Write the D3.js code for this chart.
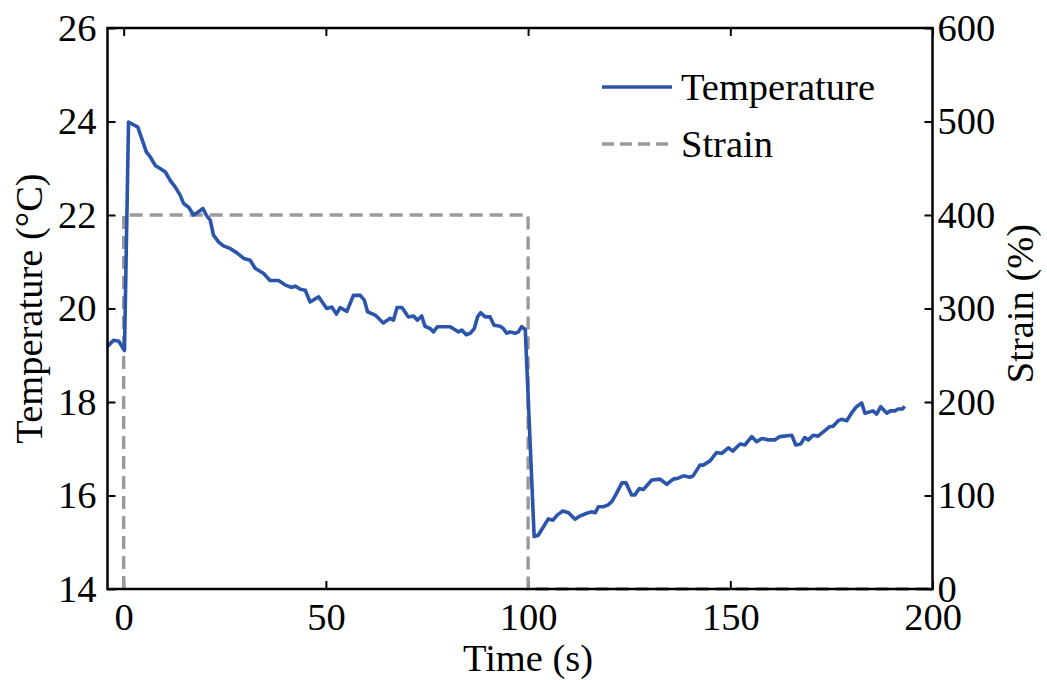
<!DOCTYPE html>
<html><head><meta charset="utf-8">
<script src="https://cdn.jsdelivr.net/npm/d3@7"></script>
<style>body{margin:0;background:#fff;} text{font-family:"Liberation Serif","Times New Roman",serif;}</style>
</head><body><svg id="c" width="1047" height="680"></svg>
<script>
const tempTime = [-4,-2.5,-1.2,0.2,1.2,3.5,4.5,5.6,6.6,7.8,9.1,10.3,11.5,12.8,14.0,14.8,16.1,17.3,18.5,19.6,20.4,21.4,22.2,23.5,24.7,26.4,28.0,29.7,31.3,32.5,34.6,36.2,38.3,40,41.6,42.4,43.7,44.9,46.1,48.2,50.2,51.5,52.6,53.5,55.2,56.8,58.5,59.5,60.3,62.2,64.2,65.9,66.7,67.6,68.8,70.4,71.7,72.6,73.7,74.5,75.8,76.6,77.6,80.7,82.8,83.6,84.7,85.7,86.7,87.5,88.3,89.4,90.6,91.6,93.1,93.9,94.7,95.5,96.8,97.6,98.4,99.3,101.5,102.5,103.8,105,106.1,107.2,108.6,110,111.6,112.8,114.5,115.7,116.6,117.4,118.6,119.8,120.7,121.9,123.2,124.2,125.6,126.4,127.5,128.5,130.6,132.6,134.3,135.9,137.1,138.4,140,140.8,142.5,143.3,145,146.6,147.9,149.5,150.6,152.4,153.6,155.3,156.5,157.8,159.4,161,162.3,165.2,166.2,167.4,168.4,169.3,170.5,171.7,173,174.5,175.4,176.7,177.5,178.8,180.2,181.2,182.5,183.3,185.3,186.2,187.2,188.7,189.6,190.7,191.5,192.6,193.1];
const tempValue = [19.19,19.32,19.3,19.1,23.99,23.88,23.63,23.35,23.24,23.06,22.99,22.92,22.74,22.59,22.42,22.25,22.16,22.0,22.07,22.14,22.0,21.89,21.57,21.42,21.34,21.28,21.19,21.07,21.03,20.86,20.75,20.6,20.6,20.5,20.45,20.48,20.41,20.39,20.14,20.25,20.0,20.03,19.88,20.02,19.94,20.28,20.28,20.18,19.93,19.86,19.69,19.79,19.75,20.02,20.02,19.82,19.84,19.75,19.84,19.62,19.57,19.5,19.61,19.61,19.5,19.54,19.44,19.47,19.57,19.82,19.91,19.82,19.82,19.64,19.62,19.57,19.47,19.5,19.47,19.5,19.61,19.55,15.12,15.15,15.33,15.5,15.47,15.58,15.67,15.63,15.49,15.56,15.62,15.65,15.63,15.76,15.76,15.8,15.87,16.05,16.27,16.27,16.01,16.01,16.15,16.13,16.33,16.35,16.24,16.35,16.37,16.42,16.39,16.42,16.65,16.65,16.74,16.92,16.9,17.02,16.95,17.1,17.08,17.26,17.15,17.22,17.19,17.19,17.26,17.29,17.08,17.1,17.24,17.19,17.29,17.27,17.36,17.47,17.48,17.6,17.63,17.6,17.79,17.9,17.98,17.76,17.81,17.74,17.9,17.76,17.81,17.81,17.85,17.85,17.91];
const strainTime = [0,0,100,100,200];
const strainValue = [0,400,400,0,0];
const xTicks = [0,50,100,150,200];
const tempTicks = [14,16,18,20,22,24,26];
const strainTicks = [0,100,200,300,400,500,600];

const svg = d3.select("#c");
const L=107.5, R=932.5, T=28, B=589;
const x = d3.scaleLinear().domain([-4,200]).range([L,R]);
const yT = d3.scaleLinear().domain([14,26]).range([B,T]);
const yS = d3.scaleLinear().domain([0,600]).range([B,T]);
const fs = 38.5;
const g = svg.append("g");

function styleAxis(a){
  a.select(".domain").remove();
  a.selectAll(".tick line").attr("stroke","#000").attr("stroke-width",2);
  a.selectAll(".tick text").attr("font-size",fs).attr("fill","#000").attr("font-family","Liberation Serif");
}
const tk = 8;
g.append("g").attr("transform",`translate(0,${B})`).call(d3.axisBottom(x).tickValues(xTicks).tickSizeInner(-tk).tickSizeOuter(0).tickPadding(14)).call(styleAxis);
g.append("g").attr("transform",`translate(0,${T})`).call(d3.axisTop(x).tickValues(xTicks).tickSizeInner(-tk).tickSizeOuter(0).tickFormat("")).call(styleAxis);
g.append("g").attr("transform",`translate(${L},0)`).call(d3.axisLeft(yT).tickValues(tempTicks).tickSizeInner(-tk).tickSizeOuter(0).tickPadding(11)).call(styleAxis);
g.append("g").attr("transform",`translate(${R},0)`).call(d3.axisRight(yS).tickValues(strainTicks).tickSizeInner(-tk).tickSizeOuter(0).tickPadding(5)).call(styleAxis);

const strainData = strainTime.map((t,i)=>[t,strainValue[i]]);
g.append("path").datum(strainData)
  .attr("d", d3.line().x(d=>x(d[0])).y(d=>yS(d[1])))
  .attr("fill","none").attr("stroke","#9a9a9a").attr("stroke-width",3.4).attr("stroke-dasharray","13,7");
const tempData = tempTime.map((t,i)=>[t,tempValue[i]]);
g.append("path").datum(tempData)
  .attr("d", d3.line().x(d=>x(d[0])).y(d=>yT(d[1])))
  .attr("fill","none").attr("stroke","#2a55aa").attr("stroke-width",3.6).attr("stroke-linejoin","round");

g.append("rect").attr("x",L).attr("y",T).attr("width",R-L).attr("height",B-T)
  .attr("fill","none").attr("stroke","#000").attr("stroke-width",2.5);

svg.append("text").attr("x",(x(0)+x(200))/2).attr("y",671).attr("text-anchor","middle").attr("font-size",fs).text("Time (s)");
svg.append("text").attr("transform",`translate(42,${(T+B)/2}) rotate(-90)`).attr("text-anchor","middle").attr("font-size",fs).text("Temperature (°C)");
svg.append("text").attr("transform",`translate(1033,${(T+B)/2 - 5}) rotate(-90)`).attr("text-anchor","middle").attr("font-size",fs).text("Strain (%)");

const leg = svg.append("g");
leg.append("line").attr("x1",602).attr("x2",672).attr("y1",87).attr("y2",87).attr("stroke","#2a55aa").attr("stroke-width",3.4);
leg.append("text").attr("x",681).attr("y",100).attr("font-size",fs).text("Temperature");
leg.append("line").attr("x1",602).attr("x2",672).attr("y1",144).attr("y2",144).attr("stroke","#9a9a9a").attr("stroke-width",3.4).attr("stroke-dasharray","12,6");
leg.append("text").attr("x",681).attr("y",157).attr("font-size",fs).text("Strain");
</script></body></html>
